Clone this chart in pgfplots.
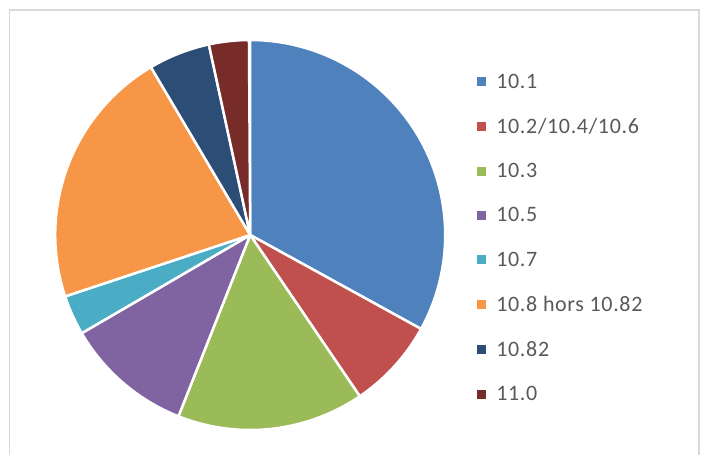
\documentclass[border=0pt]{standalone}
\usepackage{pgfplots}
\usepackage{pgfplotstable}
\pgfplotsset{compat=1.18}
\usepackage{fontspec}
\setmainfont{Carlito}[LetterSpace=3]
\definecolor{pie0}{HTML}{4F81BD}
\definecolor{pie1}{HTML}{C0504D}
\definecolor{pie2}{HTML}{9BBB59}
\definecolor{pie3}{HTML}{8064A2}
\definecolor{pie4}{HTML}{4BACC6}
\definecolor{pie5}{HTML}{F79646}
\definecolor{pie6}{HTML}{2C4D75}
\definecolor{pie7}{HTML}{772C2A}
\definecolor{legtext}{HTML}{595959}
\definecolor{frame}{HTML}{D9D9D9}

\pgfplotstableread{
value
33.0
7.5
15.5
10.6
3.3
21.6
5.1
3.3
}\piedata

\begin{document}
\begin{tikzpicture}
\useasboundingbox (0pt,0pt) rectangle (704pt,455pt);
\draw[color=frame, line width=1.5pt] (9.5pt,0pt) -- (9.5pt,445pt) -- (699pt,445pt) -- (699pt,0pt);
\begin{axis}[
  at={(250.2pt,220pt)}, anchor=center,
  width=390pt, height=390pt, scale only axis,
  hide axis, clip=false,
  xmin=-1, xmax=1, ymin=-1, ymax=1,
  legend style={at={(axis description cs:1.082,0.492)}, anchor=west,
    draw=none, fill=none, inner sep=0pt,
    font=\fontsize{22}{26}\selectfont\color{legtext},
    row sep=24.5pt, cells={anchor=west},
    /tikz/every odd column/.append style={column sep=8pt}},
  legend cell align=left,
  legend image code/.code={\fill[#1,draw=none] (0pt,-4.5pt) rectangle (9pt,4.5pt);},
]
\xdef\cum{0}
\pgfplotsinvokeforeach{0,...,7}{
  \pgfplotstablegetelem{#1}{value}\of\piedata
  \pgfmathsetmacro\va{90-3.6*(\cum+\pgfplotsretval)}
  \pgfmathsetmacro\vb{90-3.6*\cum}
  \pgfmathsetmacro\newcum{\cum+\pgfplotsretval}
  \xdef\cum{\newcum}
  \edef\doplot{\noexpand\addplot[fill=pie#1, draw=white, line width=2.5pt, line join=round, domain=\va:\vb, samples=90, variable=\noexpand\t] ({cos(\noexpand\t)},{sin(\noexpand\t)}) -- (axis cs:0,0) -- cycle;}
  \doplot
}
\legend{10.1, 10.2/10.4/10.6, 10.3, 10.5, 10.7, 10.8 hors 10.82, 10.82, 11.0}
\end{axis}
\end{tikzpicture}
\end{document}
